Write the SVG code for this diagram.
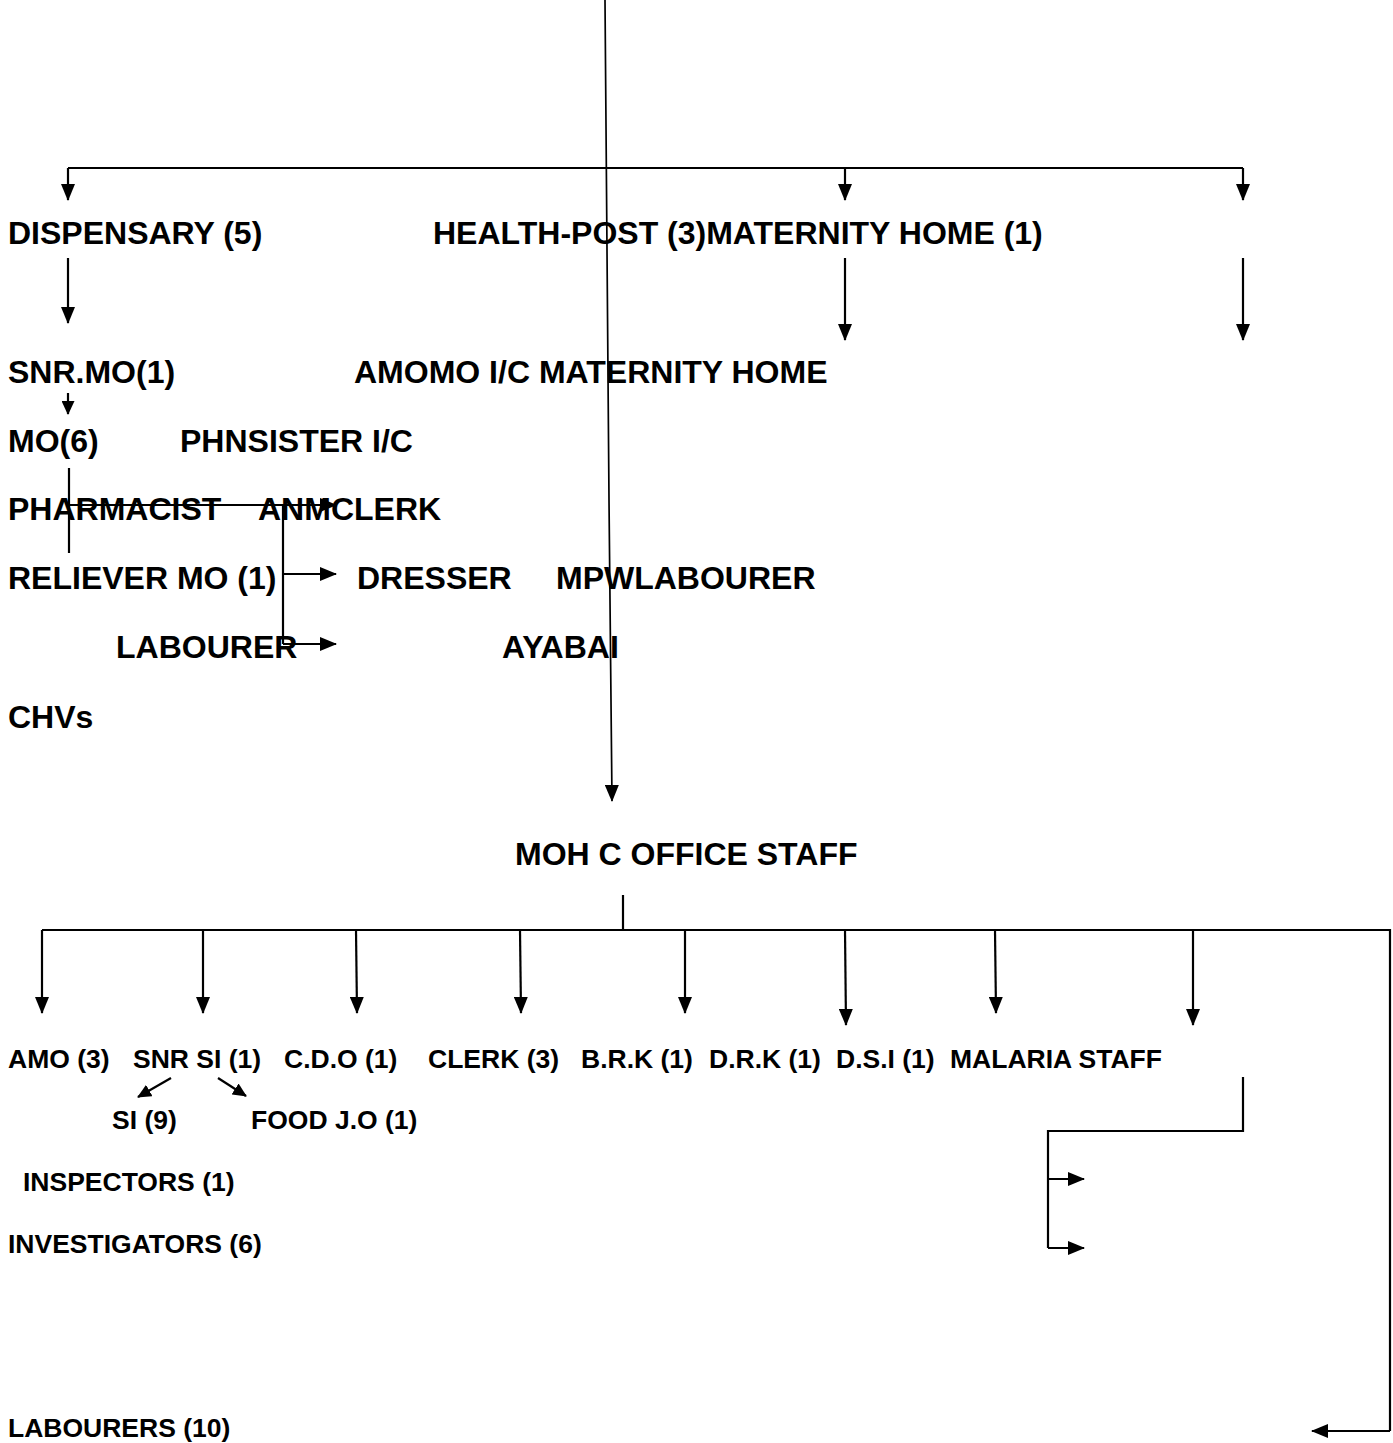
<svg xmlns="http://www.w3.org/2000/svg" width="1393" height="1443" viewBox="0 0 1393 1443">
<style>
text{font-family:"Liberation Sans",Arial,sans-serif;font-weight:bold;fill:#000}
.t1{font-size:32px}
.t2{font-size:26.5px}
.c{stroke:#000;stroke-width:2.2;fill:none}
.a{marker-end:url(#ah)}
.s{marker-end:url(#sh)}
</style>
<defs>
<marker id="ah" viewBox="0 0 17 14" refX="16" refY="7" markerWidth="17" markerHeight="14" orient="auto" markerUnits="userSpaceOnUse"><path d="M0,0L17,7L0,14Z" fill="#000"/></marker>
<marker id="sh" viewBox="0 0 14 13" refX="13" refY="6.5" markerWidth="14" markerHeight="13" orient="auto" markerUnits="userSpaceOnUse"><path d="M0,0L14,6.5L0,13Z" fill="#000"/></marker>
</defs>
<g id="connectors">
<path class="c a" d="M605,0L609,500L612,801" style="stroke-width:1.7"/>
<path class="c" d="M68,168H1243"/>
<path class="c a" d="M68,168V200"/>
<path class="c a" d="M845,168V200"/>
<path class="c a" d="M1243,168V200"/>
<path class="c a" d="M68,258V323"/>
<path class="c a" d="M845,258V340"/>
<path class="c a" d="M1243,258V340"/>
<path class="c s" d="M68,393V414"/>
<path class="c" d="M69,468V553"/>
<path class="c a" d="M69,505H336"/>
<path class="c" d="M283,505V644"/>
<path class="c a" d="M283,574H336"/>
<path class="c a" d="M283,644H336"/>
<path class="c" d="M623,895V930"/>
<path class="c" d="M42,930H1390V1431"/>
<path class="c a" d="M42,930V1013"/>
<path class="c a" d="M203,930V1013"/>
<path class="c a" d="M356,930L357,1013"/>
<path class="c a" d="M520,930L521,1013"/>
<path class="c a" d="M685,930V1013"/>
<path class="c a" d="M845,930L846,1025"/>
<path class="c a" d="M995,930L996,1013"/>
<path class="c a" d="M1193,930V1025"/>
<path class="c a" d="M1390,1431H1312"/>
<path class="c s" d="M171,1078L138,1097"/>
<path class="c s" d="M218,1078L246,1096"/>
<path class="c" d="M1243,1077V1131H1048V1248"/>
<path class="c a" d="M1048,1179H1084"/>
<path class="c a" d="M1048,1248H1084"/>
</g>
<g id="n-dispensary"><text class="t1" x="8" y="244">DISPENSARY (5)</text></g>
<g id="n-healthpost"><text class="t1" x="433" y="244">HEALTH-POST (3)MATERNITY HOME (1)</text></g>
<g id="n-snrmo"><text class="t1" x="8" y="383">SNR.MO(1)</text></g>
<g id="n-amomo"><text class="t1" x="354" y="383">AMOMO I/C MATERNITY HOME</text></g>
<g id="n-mo"><text class="t1" x="8" y="452">MO(6)</text></g>
<g id="n-phnsister"><text class="t1" x="180" y="452">PHNSISTER I/C</text></g>
<g id="n-pharmacist"><text class="t1" x="8" y="520">PHARMACIST</text></g>
<g id="n-anmclerk"><text class="t1" x="258" y="520">ANMCLERK</text></g>
<g id="n-reliever"><text class="t1" x="8" y="589">RELIEVER MO (1)</text></g>
<g id="n-dresser"><text class="t1" x="357" y="589">DRESSER</text></g>
<g id="n-mpw"><text class="t1" x="556" y="589">MPWLABOURER</text></g>
<g id="n-labourer"><text class="t1" x="116" y="658">LABOURER</text></g>
<g id="n-ayabai"><text class="t1" x="502" y="658">AYABAI</text></g>
<g id="n-chvs"><text class="t1" x="8" y="728">CHVs</text></g>
<g id="n-moh"><text class="t1" x="515" y="865">MOH C OFFICE STAFF</text></g>
<g id="n-amo"><text class="t2" x="8" y="1068">AMO (3)</text></g>
<g id="n-snrsi"><text class="t2" x="133" y="1068">SNR SI (1)</text></g>
<g id="n-cdo"><text class="t2" x="284" y="1068">C.D.O (1)</text></g>
<g id="n-clerk"><text class="t2" x="428" y="1068">CLERK (3)</text></g>
<g id="n-brk"><text class="t2" x="581" y="1068">B.R.K (1)</text></g>
<g id="n-drk"><text class="t2" x="709" y="1068">D.R.K (1)</text></g>
<g id="n-dsi"><text class="t2" x="836" y="1068">D.S.I (1)</text></g>
<g id="n-malaria"><text class="t2" x="950" y="1068">MALARIA STAFF</text></g>
<g id="n-si"><text class="t2" x="112" y="1129">SI (9)</text></g>
<g id="n-foodjo"><text class="t2" x="251" y="1129">FOOD J.O (1)</text></g>
<g id="n-inspectors"><text class="t2" x="23" y="1191">INSPECTORS (1)</text></g>
<g id="n-investigators"><text class="t2" x="8" y="1253">INVESTIGATORS (6)</text></g>
<g id="n-labourers"><text class="t2" x="8" y="1437">LABOURERS (10)</text></g>
</svg>
